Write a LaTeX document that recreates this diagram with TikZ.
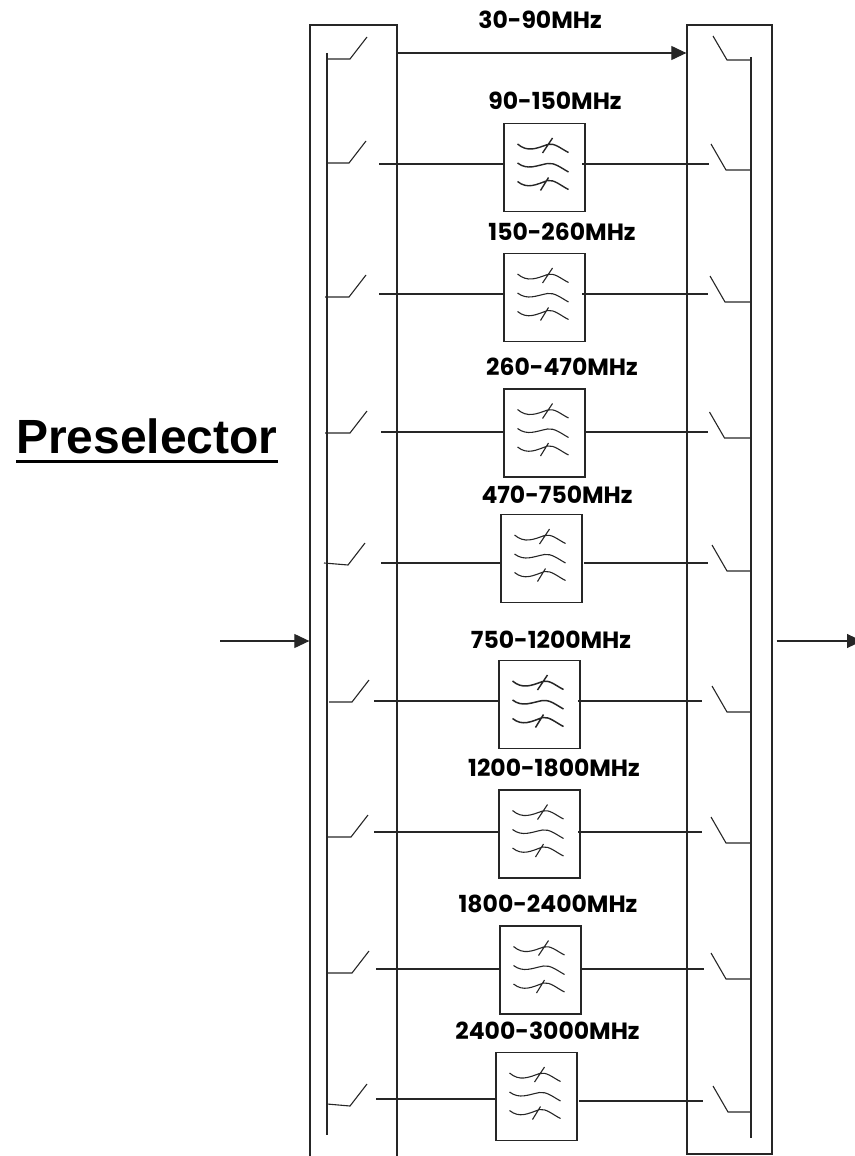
\documentclass[tikz,border=0pt]{standalone}
\usepackage{fontspec}
\setmainfont{Poppins}
\newfontfamily\titlefont{Liberation Sans}
\usetikzlibrary{arrows.meta}
\tikzset{
  wire/.style={line width=1.1pt, black!85},
  feed/.style={wire, -{Triangle[length=15pt,width=14pt]}},
  bank/.style={draw=black!85, line width=1.3pt, rectangle, inner sep=0pt, minimum width=#1, minimum height=1140pt},
  filterbox/.style={draw=black!85, line width=1.3pt, rectangle, inner sep=0pt, minimum width=81pt, minimum height=88pt},
  bandlabel/.style={font=\bfseries\fontsize{23.5}{25}\selectfont, inner sep=0pt},
  pics/waves/.style={code={
    \draw[line width=#1, black!85]
      (-27,-23.5) .. controls (-17,-15) and (-8,-19) .. (3,-23) .. controls (10,-25) and (16,-19) .. (24,-15)
      (-27,-4.5) .. controls (-17,3) and (-8,-2) .. (3,-4) .. controls (10,-5) and (16,0) .. (24,4.5)
      (-27,14) .. controls (-17,22) and (-8,17) .. (3,13) .. controls (10,12) and (16,18) .. (24,22)
      (-2,-14.5) -- (8,-29.5)
      (-4,23) -- (4,10);
  }},
}
\begin{document}
\begin{tikzpicture}[x=1pt, y=-1pt]
  \useasboundingbox (0,0) rectangle (854,1156);
  % the two switch banks
  \node[bank=87pt] (leftbank) at (353.5,595) {};
  \node[bank=85pt, minimum height=1129pt] (rightbank) at (729.5,589.5) {};
  % busbars
  \coordinate (ltop) at (327,53);
  \coordinate (lbot) at (327,1135);
  \coordinate (rtop) at (751,57);
  \coordinate (rbot) at (751,1138);
  \draw[wire] (ltop) -- (lbot);
  \draw[wire] (rtop) -- (rbot);
  % way in and way out
  \coordinate (inpt) at (220,641);
  \coordinate (outpt) at (862,641);
  \draw[feed] (inpt) -- (inpt -| leftbank.west);
  \draw[feed] (outpt -| rightbank.east) ++(4,0) -- (outpt);
  \node[font=\titlefont\bfseries\fontsize{48}{50}\selectfont, inner sep=0pt, anchor=base west] (title) at (16,453) {Preselector};
  \coordinate (ulstart) at (16,461.5);
  \coordinate (ulend) at (278,461.5);
  \draw[line width=2.6pt] (ulstart) -- (ulend);
  % straight through band
  \node[bandlabel] (lab1) at (540,20) {30-90MHz};
  \coordinate (thru) at (397,53);
  \draw[feed] (thru) -- (thru -| rightbank.west);
  \draw[wire] (327,59) -- (350,59) -- (367,37);
  \draw[wire] (713,36) -- (727,60) -- (751,60);
  % filtered bands
  \foreach \n/\lab/\lx/\ly/\fx/\fy/\wl/\wr/\bs/\sx/\sa/\sb/\ls/\rs/\re/\tx/\ty/\lw in {
    2/90-150MHz/555/101/544.5/167.5/164/164/327/349/163/163/379/582/709/726/170/1.4,
    3/150-260MHz/562/232/544.5/297.5/294/294/325/349/297/297/379/582/708/725/302/1.1,
    4/260-470MHz/562/367/544.5/433/432/432/325/350/433/433/381/585/708/724.5/438/1.1,
    5/470-750MHz/557/495/541.5/558.5/563/563/324/348/563/565/381/584/708/727/571/1.1,
    6/750-1200MHz/551/640/539.5/704.5/701/701/329/352/702/702/374/578/702/727/712/1.5,
    7/1200-1800MHz/554/768/539.5/834/832/832/327/351/837/837/374/578/702/726/843/1.1,
    8/1800-2400MHz/548/904/540.5/970/969/969/327/352/973/973/376/580/704/726/979/1.1,
    9/2400-3000MHz/547.5/1031/536.5/1096.5/1099/1101/327/350/1104/1106/376/579/703/728/1112/1.1}
  {
    \node[bandlabel] (lab\n) at (\lx,\ly) {\lab};
    \node[filterbox] (filt\n) at (\fx,\fy) {};
    \pic at (filt\n.center) {waves=\lw pt};
    \coordinate (lout\n) at (\ls,\wl);
    \coordinate (rout\n) at (\rs,\wr);
    \coordinate (rin\n) at (\re,\wr);
    \draw[wire] (lout\n) -- (lout\n -| filt\n.west);
    \draw[wire] (rout\n) -- (rin\n);
    % the two switches of this band
    \draw[wire] (\bs,\sa) -- (\sx,\sb) -- (\sx+17,\sb-22);
    \draw[wire] (\tx-15,\ty-26) -- (\tx,\ty) -- (751,\ty);
  }
\end{tikzpicture}
\end{document}
